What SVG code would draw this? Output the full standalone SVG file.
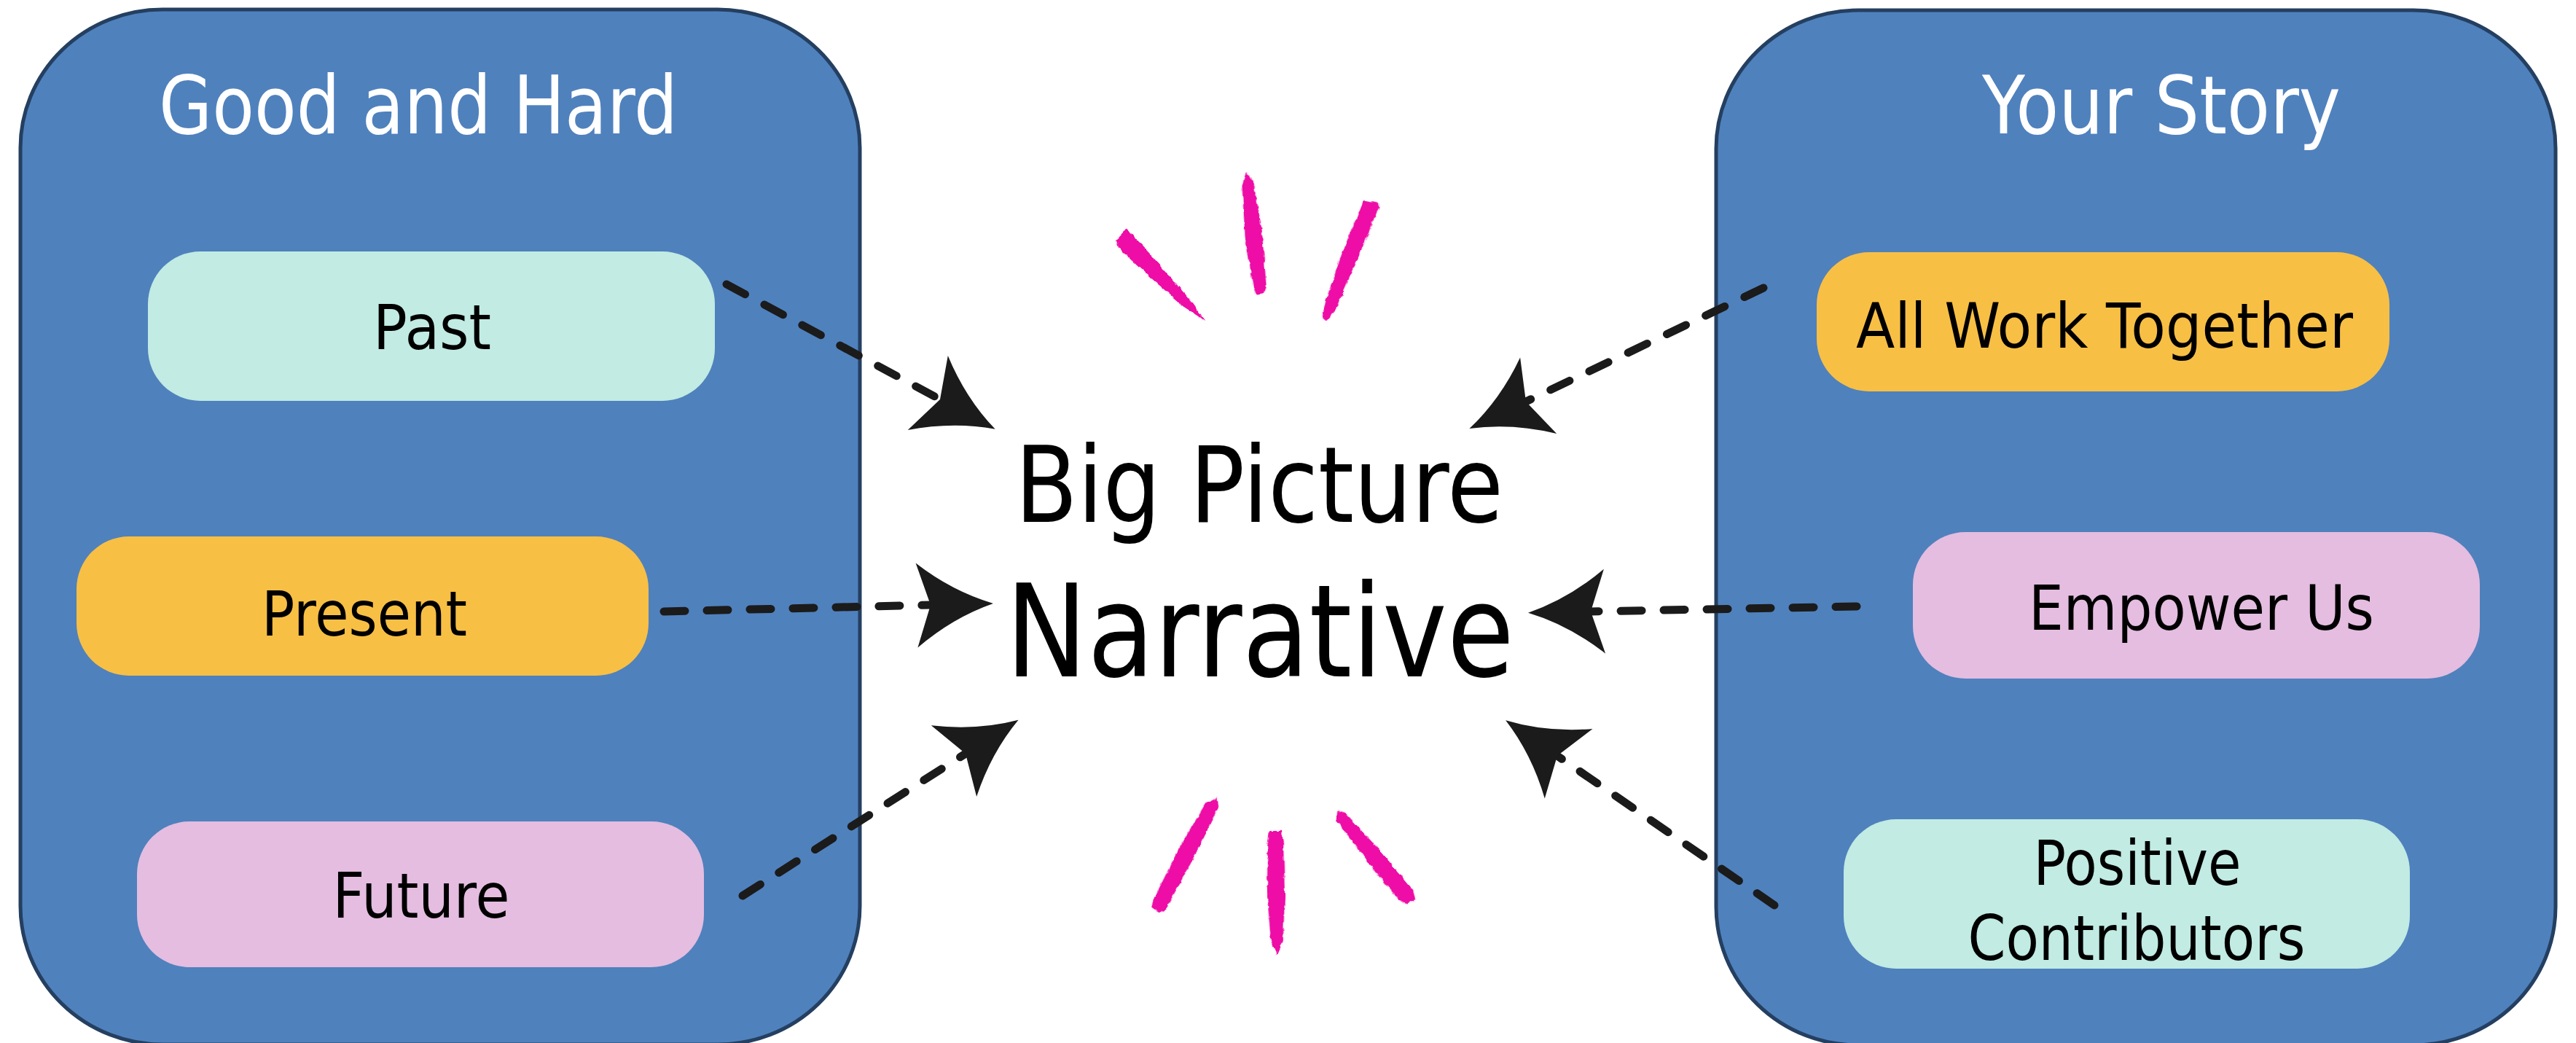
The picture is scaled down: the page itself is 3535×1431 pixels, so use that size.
<svg xmlns="http://www.w3.org/2000/svg" width="3535" height="1431" viewBox="0 0 3535 1431">
  <style>
    .panel { fill: #4f81bd; stroke: #243f60; stroke-width: 5; }
    .title { font-family: "DejaVu Sans", "Liberation Sans", sans-serif; font-size: 110px; fill: #ffffff; text-anchor: middle; }
    .node-text { font-family: "DejaVu Sans", "Liberation Sans", sans-serif; font-size: 86px; fill: #000000; text-anchor: middle; }
    .center-text { font-family: "DejaVu Sans", "Liberation Sans", sans-serif; fill: #000000; text-anchor: middle; }
    .teal { fill: #c1ebe3; }
    .orange { fill: #f8bf45; }
    .lilac { fill: #e4bde0; }
    .link { fill: none; stroke: #1b1b1b; stroke-width: 11; stroke-linecap: round; stroke-dasharray: 29 30; marker-end: url(#head); }
    .brush { fill: #ee0aa6; }
  </style>
  <defs>
    <!-- swept arrowhead; origin sits at the notch, tip points along +x -->
    <marker id="head" markerUnits="userSpaceOnUse" viewBox="-25 -64 120 128" refX="0" refY="0" markerWidth="120" markerHeight="128" orient="auto" overflow="visible">
      <path d="M86,0 Q30,-18 -19,-58 L0,0 L-19,58 Q30,18 86,0 Z" fill="#1b1b1b"/>
    </marker>
    <filter id="rough" x="-20%" y="-20%" width="140%" height="140%">
      <feTurbulence type="fractalNoise" baseFrequency="0.12" numOctaves="2" seed="3" result="n"/>
      <feDisplacementMap in="SourceGraphic" in2="n" scale="5" xChannelSelector="R" yChannelSelector="G"/>
    </filter>
  </defs>

  <!-- left container -->
  <g id="panel-good-and-hard">
    <rect class="panel" x="28" y="13" width="1152" height="1420" rx="195" ry="190"/>
    <text class="title" x="574" y="183" textLength="712" lengthAdjust="spacingAndGlyphs">Good and Hard</text>
  </g>

  <!-- right container -->
  <g id="panel-your-story">
    <rect class="panel" x="2355" y="14" width="1152" height="1420" rx="195" ry="190"/>
    <text class="title" x="2966" y="183" textLength="492" lengthAdjust="spacingAndGlyphs">Your Story</text>
  </g>

  <g id="node-past">
    <rect class="teal" x="203" y="345" width="778" height="205" rx="72" ry="72"/>
    <text class="node-text" x="593" y="479" textLength="162" lengthAdjust="spacingAndGlyphs">Past</text>
  </g>
  <g id="node-present">
    <rect class="orange" x="105" y="736" width="785" height="191" rx="72" ry="72"/>
    <text class="node-text" x="500" y="872" textLength="282" lengthAdjust="spacingAndGlyphs">Present</text>
  </g>
  <g id="node-future">
    <rect class="lilac" x="188" y="1127" width="778" height="200" rx="72" ry="72"/>
    <text class="node-text" x="578" y="1259" textLength="243" lengthAdjust="spacingAndGlyphs">Future</text>
  </g>

  <g id="node-all-work-together">
    <rect class="orange" x="2493" y="346" width="786" height="191" rx="72" ry="72"/>
    <text class="node-text" x="2888" y="477" textLength="682" lengthAdjust="spacingAndGlyphs">All Work Together</text>
  </g>
  <g id="node-empower-us">
    <rect class="lilac" x="2625" y="730" width="778" height="201" rx="72" ry="72"/>
    <text class="node-text" x="3021" y="864" textLength="474" lengthAdjust="spacingAndGlyphs">Empower Us</text>
  </g>
  <g id="node-positive-contributors">
    <rect class="teal" x="2530" y="1124" width="777" height="205" rx="72" ry="72"/>
    <text class="node-text" x="2933" y="1214" textLength="285" lengthAdjust="spacingAndGlyphs">Positive</text>
    <text class="node-text" x="2932" y="1317" textLength="463" lengthAdjust="spacingAndGlyphs">Contributors</text>
  </g>

  <!-- central caption -->
  <g id="node-big-picture-narrative">
    <text class="center-text" x="1728" y="716" font-size="144" textLength="670" lengthAdjust="spacingAndGlyphs">Big Picture</text>
    <text class="center-text" x="1729" y="928" font-size="176" textLength="698" lengthAdjust="spacingAndGlyphs">Narrative</text>
  </g>

  <!-- accent brush marks around the caption -->
  <g id="accents" filter="url(#rough)">
    <path class="brush" transform="translate(1537,323) rotate(45.2)" d="M0,-12 L10,-13 L70,-10 L130,-6 L165,0 L130,7 L70,11 L10,13 L0,8 Z"/>
    <path class="brush" transform="translate(1710,235) rotate(83.2)" d="M0,0 L15,-8 L80,-12 L160,-9 L169,-5 L169,6 L160,9 L90,12 L20,8 Z"/>
    <path class="brush" transform="translate(1883,275) rotate(111.5)" d="M0,-10 L5,-12 L80,-11 L160,-8 L177,-2 L175,5 L150,9 L80,12 L5,11 Z"/>
    <path class="brush" transform="translate(1668,1093) rotate(117.3)" d="M0,-3 L10,-10 L90,-12 L170,-10 L177,-4 L176,8 L165,11 L90,12 L15,8 Z"/>
    <path class="brush" transform="translate(1750,1140) rotate(89.3)" d="M0,-9 L20,-11 L90,-12 L150,-9 L170,0 L150,8 L90,12 L20,11 L0,8 Z"/>
    <path class="brush" transform="translate(1833,1113) rotate(50)" d="M0,-3 L10,-8 L80,-12 L150,-12 L163,-6 L160,6 L150,12 L80,11 L10,7 Z"/>
  </g>

  <!-- dashed connectors into the caption -->
  <g id="connectors">
    <path class="link" d="M997,390 L1290,548"/>
    <path class="link" d="M911,839 L1277,830"/>
    <path class="link" d="M1019,1229 L1325,1034"/>
    <path class="link" d="M2420,395 L2094,551"/>
    <path class="link" d="M2548,832 L2183,839"/>
    <path class="link" d="M2435,1242 L2137,1037"/>
  </g>
</svg>
